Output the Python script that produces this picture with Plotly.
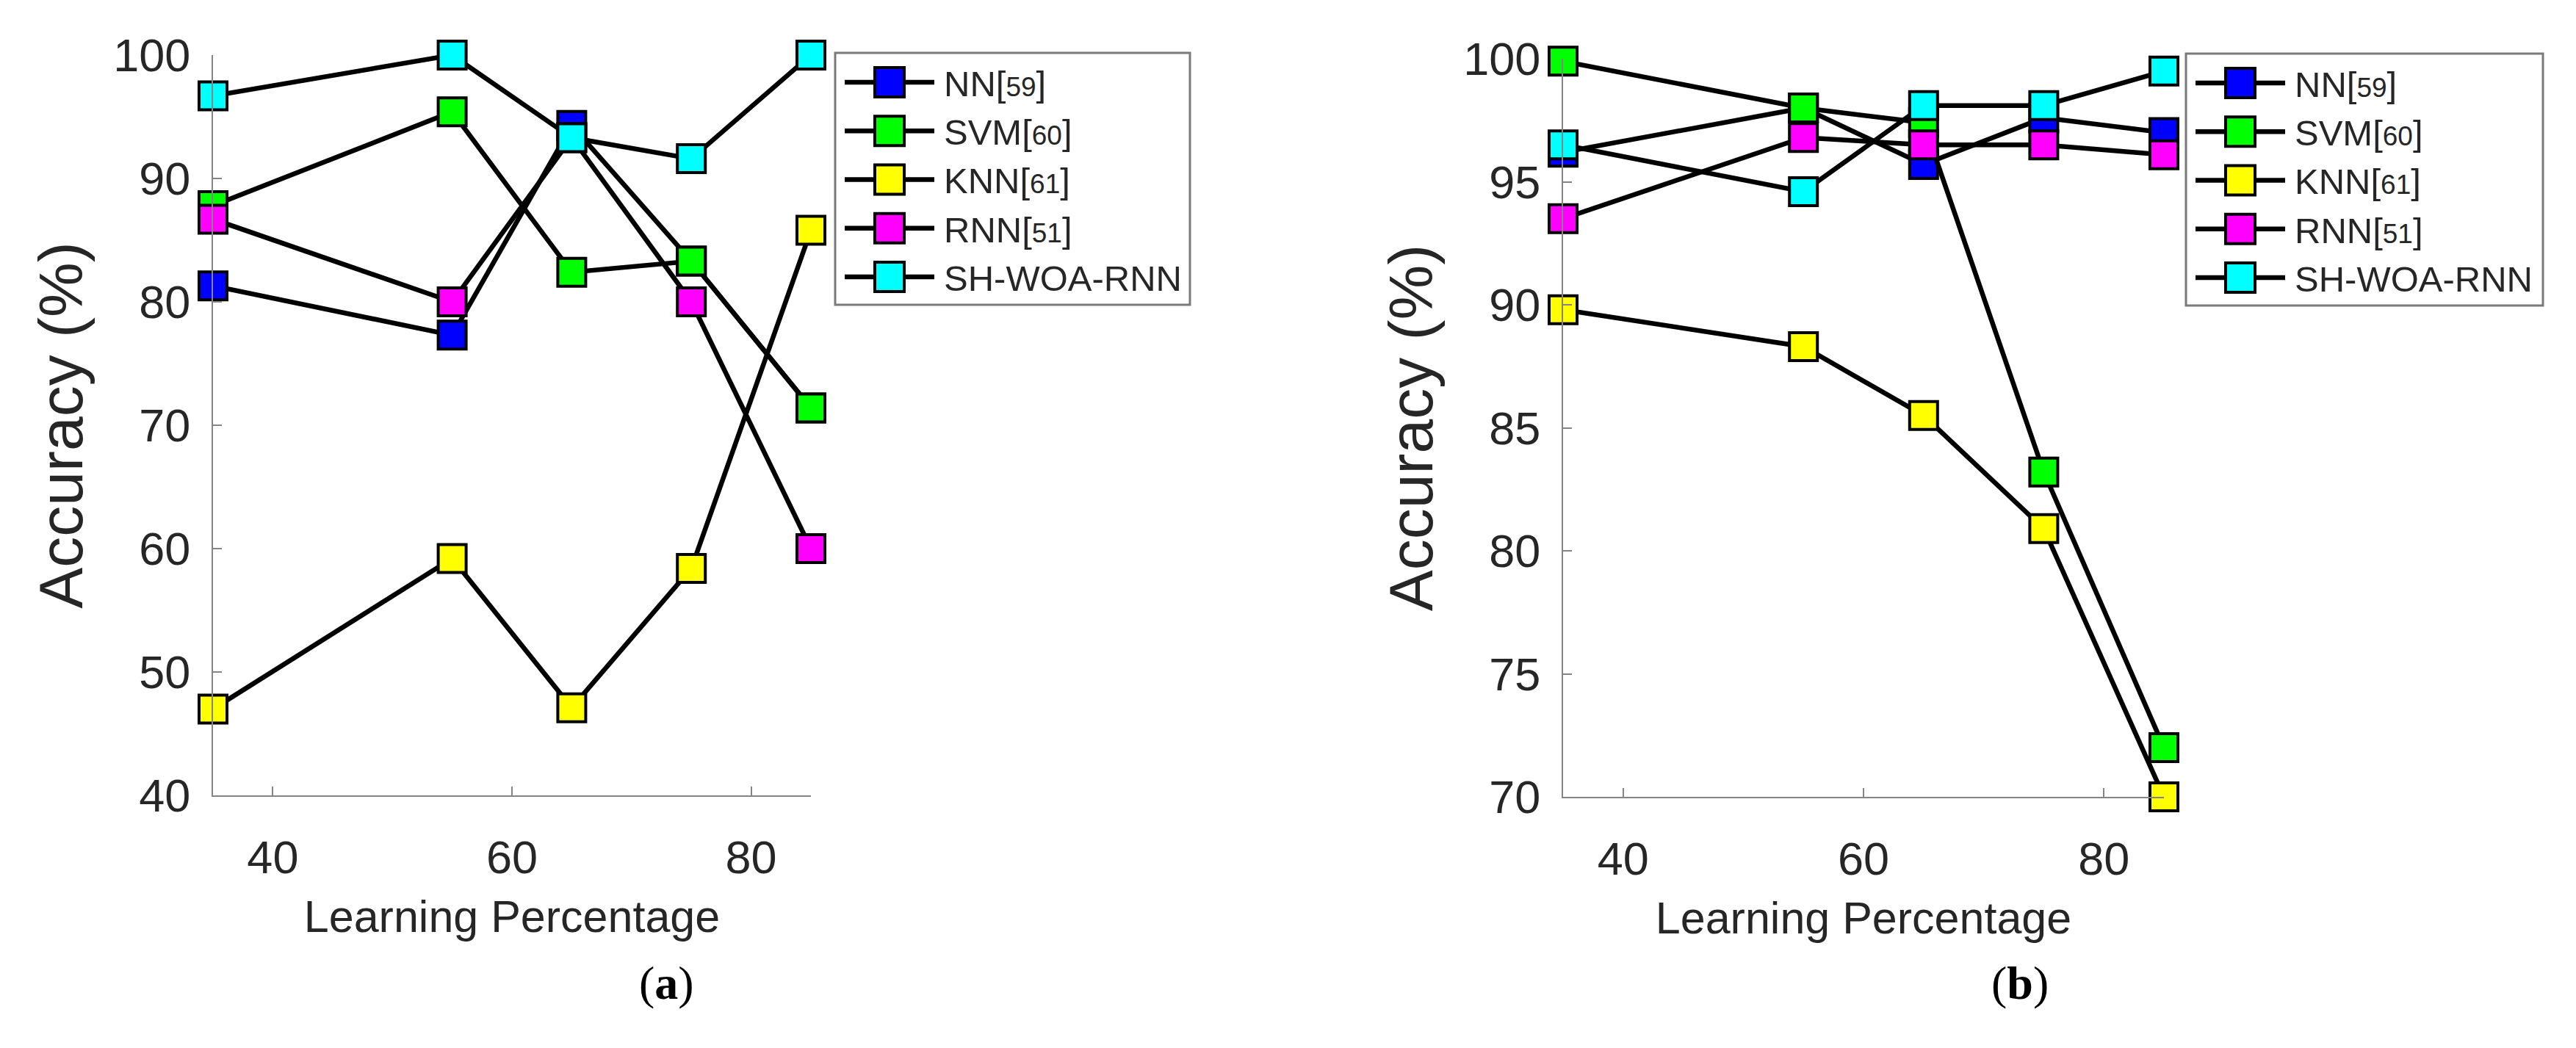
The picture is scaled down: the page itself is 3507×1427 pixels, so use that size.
import plotly.graph_objects as go

W, H = 3507, 1427
OFF = 8  # page body margin offset

def px(xp):
    return (xp - OFF) / W

def py(yp):
    return 1 - (yp - OFF) / H

x_vals = [35, 55, 65, 75, 85]
series_labels = ["NN", "SVM", "KNN", "RNN", "SH-WOA-RNN"]
series_refs = ["59", "60", "61", "51", ""]
colors = ["#0000FF", "#00FF00", "#FFFF00", "#FF00FF", "#00FFFF"]

# panel (a)
a_nn = [81.3, 77.3, 94.3, 83.3, 71.4]
a_svm = [87.8, 95.4, 82.4, 83.3, 71.4]
a_knn = [47.0, 59.2, 47.1, 58.4, 85.8]
a_rnn = [86.7, 80.0, 93.3, 80.0, 60.0]
a_sh = [96.7, 100.0, 93.3, 91.6, 100.0]

# panel (b)
b_nn = [96.2, 98.0, 95.7, 97.6, 97.0]
b_svm = [99.9, 98.0, 97.4, 83.2, 72.0]
b_knn = [89.8, 88.3, 85.5, 80.9, 70.0]
b_rnn = [93.5, 96.8, 96.5, 96.5, 96.1]
b_sh = [96.5, 94.6, 98.1, 98.1, 99.5]

a_series = [a_nn, a_svm, a_knn, a_rnn, a_sh]
b_series = [b_nn, b_svm, b_knn, b_rnn, b_sh]

x_ticks = [40, 60, 80]
a_yticks = [40, 50, 60, 70, 80, 90, 100]
b_yticks = [70, 75, 80, 85, 90, 95, 100]

FONT = "Liberation Sans, Arial, sans-serif"
TXT = "#262626"
AX = "#858585"

def label_html(lab, ref):
    if ref:
        return f"{lab}[<span style='font-size:37px'>{ref}</span>]"
    return lab

fig = go.Figure()

for lab, ref, col, ys in zip(series_labels, series_refs, colors, a_series):
    fig.add_trace(go.Scatter(
        x=x_vals, y=ys, name=f"{lab}[{ref}]" if ref else lab, mode="lines+markers",
        line=dict(color="black", width=6.5),
        marker=dict(symbol="square", size=38, color=col, line=dict(color="black", width=4)),
        cliponaxis=False, xaxis="x", yaxis="y", showlegend=False,
    ))
for lab, ref, col, ys in zip(series_labels, series_refs, colors, b_series):
    fig.add_trace(go.Scatter(
        x=x_vals, y=ys, name=f"{lab}[{ref}]" if ref else lab, mode="lines+markers",
        line=dict(color="black", width=6.5),
        marker=dict(symbol="square", size=38, color=col, line=dict(color="black", width=4)),
        cliponaxis=False, xaxis="x2", yaxis="y2", showlegend=False,
    ))

def xaxis(domain, anchor):
    return dict(
        domain=domain, range=[35, 85], tickvals=x_ticks, anchor=anchor,
        showline=True, linecolor=AX, linewidth=2, mirror=False,
        ticks="inside", ticklen=12, tickwidth=2, tickcolor=AX,
        showgrid=False, zeroline=False, automargin=False,
        tickfont=dict(family=FONT, size=63, color=TXT),
        ticklabelstandoff=28,
        title=dict(text="Learning Percentage", font=dict(family=FONT, size=61, color=TXT), standoff=26),
    )

def yaxis(domain, rng, ticks, anchor):
    return dict(
        domain=domain, range=rng, tickvals=ticks, anchor=anchor,
        showline=True, linecolor=AX, linewidth=2, mirror=False,
        ticks="inside", ticklen=12, tickwidth=2, tickcolor=AX,
        showgrid=False, zeroline=False, automargin=False,
        tickfont=dict(family=FONT, size=63, color=TXT),
        ticklabelstandoff=16,
        title=dict(text="Accuracy (%)", font=dict(family=FONT, size=84, color=TXT), standoff=14),
    )

# legend boxes (page pixels): left, top, right, bottom
legend_boxes = [(1137, 72, 1620, 415), (2976, 73, 3462, 416)]
ROW0, ROW_STEP = 40, 66.25
LINE_L, LINE_R, MARK_C, TEXT_L, MARK_HALF = 13, 135, 74, 146, 20

shapes = []
annotations = []
for (bl, bt, br, bb) in legend_boxes:
    shapes.append(dict(type="rect", xref="paper", yref="paper",
                       x0=px(bl), x1=px(br), y0=py(bb), y1=py(bt),
                       line=dict(color="#7a7a7a", width=3), fillcolor="white", layer="above"))
    for i, (lab, ref, col) in enumerate(zip(series_labels, series_refs, colors)):
        cy = bt + ROW0 + ROW_STEP * i
        shapes.append(dict(type="line", xref="paper", yref="paper",
                           x0=px(bl + LINE_L), x1=px(bl + LINE_R), y0=py(cy), y1=py(cy),
                           line=dict(color="black", width=6.5), layer="above"))
        shapes.append(dict(type="rect", xref="paper", yref="paper",
                           x0=px(bl + MARK_C - MARK_HALF), x1=px(bl + MARK_C + MARK_HALF),
                           y0=py(cy + MARK_HALF), y1=py(cy - MARK_HALF),
                           line=dict(color="black", width=4), fillcolor=col, layer="above"))
        annotations.append(dict(text=label_html(lab, ref), xref="paper", yref="paper",
                                x=px(bl + TEXT_L), y=py(cy + 2), xanchor="left", yanchor="middle",
                                showarrow=False, font=dict(family=FONT, size=49, color=TXT)))

annotations += [
    dict(text="(<b>a</b>)", x=px(907), y=py(1338), xref="paper", yref="paper",
         xanchor="center", yanchor="middle",
         showarrow=False, font=dict(family="Liberation Serif, serif", size=64, color="black")),
    dict(text="(<b>b</b>)", x=px(2750), y=py(1338), xref="paper", yref="paper",
         xanchor="center", yanchor="middle",
         showarrow=False, font=dict(family="Liberation Serif, serif", size=64, color="black")),
]

fig.update_layout(
    width=W, height=H, autosize=False,
    margin=dict(l=0, r=0, t=0, b=0, autoexpand=False),
    paper_bgcolor="white", plot_bgcolor="white",
    xaxis=xaxis([px(290), px(1104)], "y"),
    yaxis=yaxis([py(1083), py(75)], [40, 100], a_yticks, "x"),
    xaxis2=xaxis([px(2128), px(2946)], "y2"),
    yaxis2=yaxis([py(1085), py(80)], [70, 100], b_yticks, "x2"),
    showlegend=False,
    shapes=shapes,
    annotations=annotations,
)

fig.write_html("out.html")
